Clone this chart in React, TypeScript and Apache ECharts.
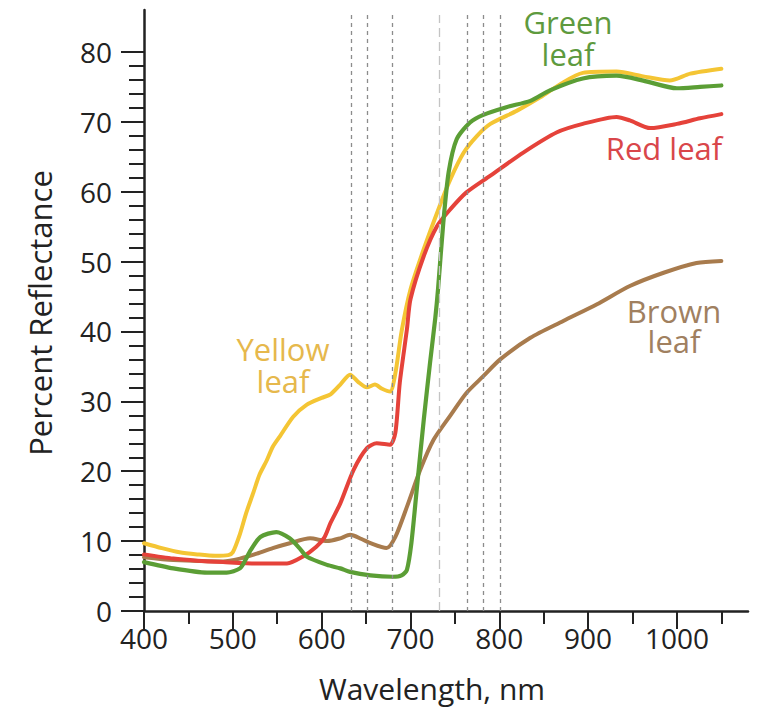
import React, { useEffect, useRef } from "react";
import * as echarts from "echarts";

const FONT = "'Open Sans', 'Noto Sans', sans-serif";

// Wavelength (nm) and percent reflectance for each leaf
const yellowWl = [400, 420, 440, 460, 480, 495, 500, 508, 515, 523, 530, 538, 545, 553, 568, 583, 600, 610, 621, 632, 641, 651, 660, 668, 677, 683, 690, 700, 715, 733, 745, 760, 775, 790, 820, 846, 870, 894, 932, 962, 992, 1015, 1050];
const yellowVal = [9.7, 9.0, 8.4, 8.1, 7.9, 8.0, 8.4, 11.0, 14.0, 16.9, 19.5, 21.5, 23.5, 25.0, 27.8, 29.5, 30.5, 31.0, 32.4, 33.8, 32.8, 32.0, 32.4, 31.8, 31.4, 34.0, 40.0, 46.0, 51.8, 58.0, 61.8, 65.6, 68.0, 69.7, 71.6, 73.5, 75.5, 77.0, 77.2, 76.5, 75.9, 76.9, 77.6];

const redWl = [400, 433, 460, 489, 527, 561, 579, 594, 603, 610, 621, 636, 651, 662, 677, 683, 688, 696, 700, 715, 730, 745, 763, 790, 827, 865, 894, 932, 947, 970, 1000, 1026, 1050];
const redVal = [8.1, 7.5, 7.2, 7.0, 6.8, 6.8, 7.8, 9.2, 10.5, 12.6, 15.4, 20.2, 23.3, 24.0, 23.8, 25.5, 32.7, 40.3, 44.6, 50.8, 55.1, 57.5, 59.9, 62.3, 65.6, 68.5, 69.7, 70.7, 70.2, 69.1, 69.7, 70.5, 71.1];

const greenWl = [400, 433, 471, 493, 508, 515, 520, 531, 549, 564, 575, 583, 606, 621, 632, 655, 680, 690, 696, 701, 707, 715, 722, 728, 731, 737, 743, 752, 767, 782, 808, 835, 857, 894, 932, 962, 1000, 1026, 1050];
const greenVal = [7.0, 6.1, 5.5, 5.5, 6.1, 7.5, 8.7, 10.6, 11.3, 10.4, 9.0, 7.8, 6.6, 6.1, 5.6, 5.1, 4.9, 5.1, 5.9, 9.7, 17.3, 27.4, 35.5, 42.0, 46.0, 55.6, 62.8, 67.5, 69.9, 71.0, 72.1, 73.0, 74.5, 76.2, 76.6, 75.9, 74.8, 75.0, 75.2];

const brownWl = [400, 433, 489, 508, 527, 545, 564, 587, 606, 621, 632, 645, 655, 673, 683, 696, 711, 726, 745, 763, 782, 801, 835, 872, 910, 947, 985, 1022, 1050];
const brownVal = [7.7, 7.3, 7.1, 7.5, 8.2, 9.0, 9.7, 10.4, 10.0, 10.4, 10.9, 10.3, 9.7, 9.0, 10.6, 14.9, 20.2, 24.5, 28.0, 31.2, 33.6, 36.0, 39.1, 41.5, 43.9, 46.5, 48.4, 49.8, 50.1];

// Dashed reference band lines (nm)
const bandLines = [633, 651, 679, 764, 782, 801];
const lightBandLines = [732];

// Axis ticks
const xMajorTicks = [400, 500, 600, 700, 800, 900, 1000];
const xMinorTicks = [450, 550, 650, 750, 850, 950, 1050];
const yMajorTicks = [0, 10, 20, 30, 40, 50, 60, 70, 80];
const yMinorTicks = [2, 4, 6, 8, 12, 14, 16, 18, 22, 24, 26, 28, 32, 34, 36, 38, 42, 44, 46, 48, 52, 54, 56, 58, 62, 64, 66, 68, 72, 74, 76, 78];

const X_MIN = 400;
const X_MAX = 1080;
const Y_MIN = 0;
const Y_MAX = 86;
const LINE_TOP = 85.3;

const zip = (a: number[], b: number[]) => a.map((v, i) => [v, b[i]]);

export default function App() {
  const ref = useRef<HTMLDivElement>(null);
  useEffect(() => {
    document.body.style.margin = "0";
    if (!ref.current) return;
    const chart = echarts.init(ref.current, undefined, { renderer: "svg" });
    const axisColor = "#222";
    const mkLines = [
      ...bandLines.map((v) => [
        { coord: [v, 0], lineStyle: { color: "#8c8c8c", type: [4, 4], width: 1.3 } },
        { coord: [v, LINE_TOP] },
      ]),
      ...lightBandLines.map((v) => [
        { coord: [v, 0], lineStyle: { color: "#c4c4c4", type: [9, 5], width: 1.3 } },
        { coord: [v, LINE_TOP] },
      ]),
    ];
    const lineSeries = (name: string, data: number[][], color: string, width: number) => ({
      name,
      type: "line",
      data,
      xAxisIndex: 0,
      yAxisIndex: 0,
      showSymbol: false,
      smooth: 0.25,
      lineStyle: { color, width, cap: "round", join: "round" },
      itemStyle: { color },
      silent: true,
    });
    const textEl = (text: string, x: number, y: number, color: string, size = 31, lh = 32) => ({
      type: "text",
      x,
      y,
      style: {
        text,
        fill: color,
        font: `${size}px ${FONT}`,
        lineHeight: lh,
        align: "center",
        verticalAlign: "middle",
      },
    });
    chart.setOption({
      animation: false,
      backgroundColor: "#fff",
      grid: { left: 144, top: 10, right: 13, bottom: 97, containLabel: false },
      xAxis: [
        {
          type: "value",
          min: X_MIN,
          max: X_MAX,
          axisLine: { show: true, lineStyle: { color: axisColor, width: 2.5 } },
          axisTick: { show: true, customValues: xMajorTicks, length: 18, lineStyle: { color: axisColor, width: 2 } },
          axisLabel: {
            customValues: xMajorTicks,
            color: "#222",
            fontSize: 28,
            fontFamily: FONT,
            margin: 13,
            formatter: (v: number) => String(v),
          },
          splitLine: { show: false },
        },
        {
          type: "value",
          min: X_MIN,
          max: X_MAX,
          position: "bottom",
          axisLine: { show: false },
          axisTick: { show: true, customValues: xMinorTicks, length: 13, lineStyle: { color: axisColor, width: 2 } },
          axisLabel: { show: false },
          splitLine: { show: false },
        },
      ],
      yAxis: [
        {
          type: "value",
          min: Y_MIN,
          max: Y_MAX,
          axisLine: { show: true, lineStyle: { color: axisColor, width: 2.5 } },
          axisTick: { show: true, customValues: yMajorTicks, length: 23, lineStyle: { color: axisColor, width: 2 } },
          axisLabel: {
            customValues: yMajorTicks,
            color: "#222",
            fontSize: 28,
            fontFamily: FONT,
            margin: 32,
            formatter: (v: number) => String(v),
          },
          splitLine: { show: false },
        },
        {
          type: "value",
          min: Y_MIN,
          max: Y_MAX,
          position: "left",
          axisLine: { show: false },
          axisTick: { show: true, customValues: yMinorTicks, length: 15, lineStyle: { color: axisColor, width: 2 } },
          axisLabel: { show: false },
          splitLine: { show: false },
        },
      ],
      series: [
        {
          type: "line",
          data: [],
          silent: true,
          markLine: { symbol: "none", silent: true, label: { show: false }, data: mkLines },
        },
        lineSeries("Brown leaf", zip(brownWl, brownVal), "#a87b4d", 4),
        lineSeries("Yellow leaf", zip(yellowWl, yellowVal), "#f4c534", 4),
        lineSeries("Red leaf", zip(redWl, redVal), "#e5423a", 4),
        lineSeries("Green leaf", zip(greenWl, greenVal), "#5b9e35", 4.2),
      ],
      graphic: [
        textEl("Yellow\nleaf", 283, 365, "#e6b84c"),
        textEl("Green\nleaf", 568, 38, "#5e9a3e"),
        textEl("Red leaf", 664, 148, "#d9464a"),
        textEl("Brown\nleaf", 674, 326, "#a08060", 31, 30),
        textEl("Wavelength, nm", 432, 688, "#222", 30),
        {
          type: "text",
          x: 40,
          y: 313,
          rotation: Math.PI / 2,
          style: {
            text: "Percent Reflectance",
            fill: "#222",
            font: `31px ${FONT}`,
            align: "center",
            verticalAlign: "middle",
          },
        },
      ],
    });
    return () => chart.dispose();
  }, []);
  return <div ref={ref} style={{ width: 761, height: 708 }} />;
}
